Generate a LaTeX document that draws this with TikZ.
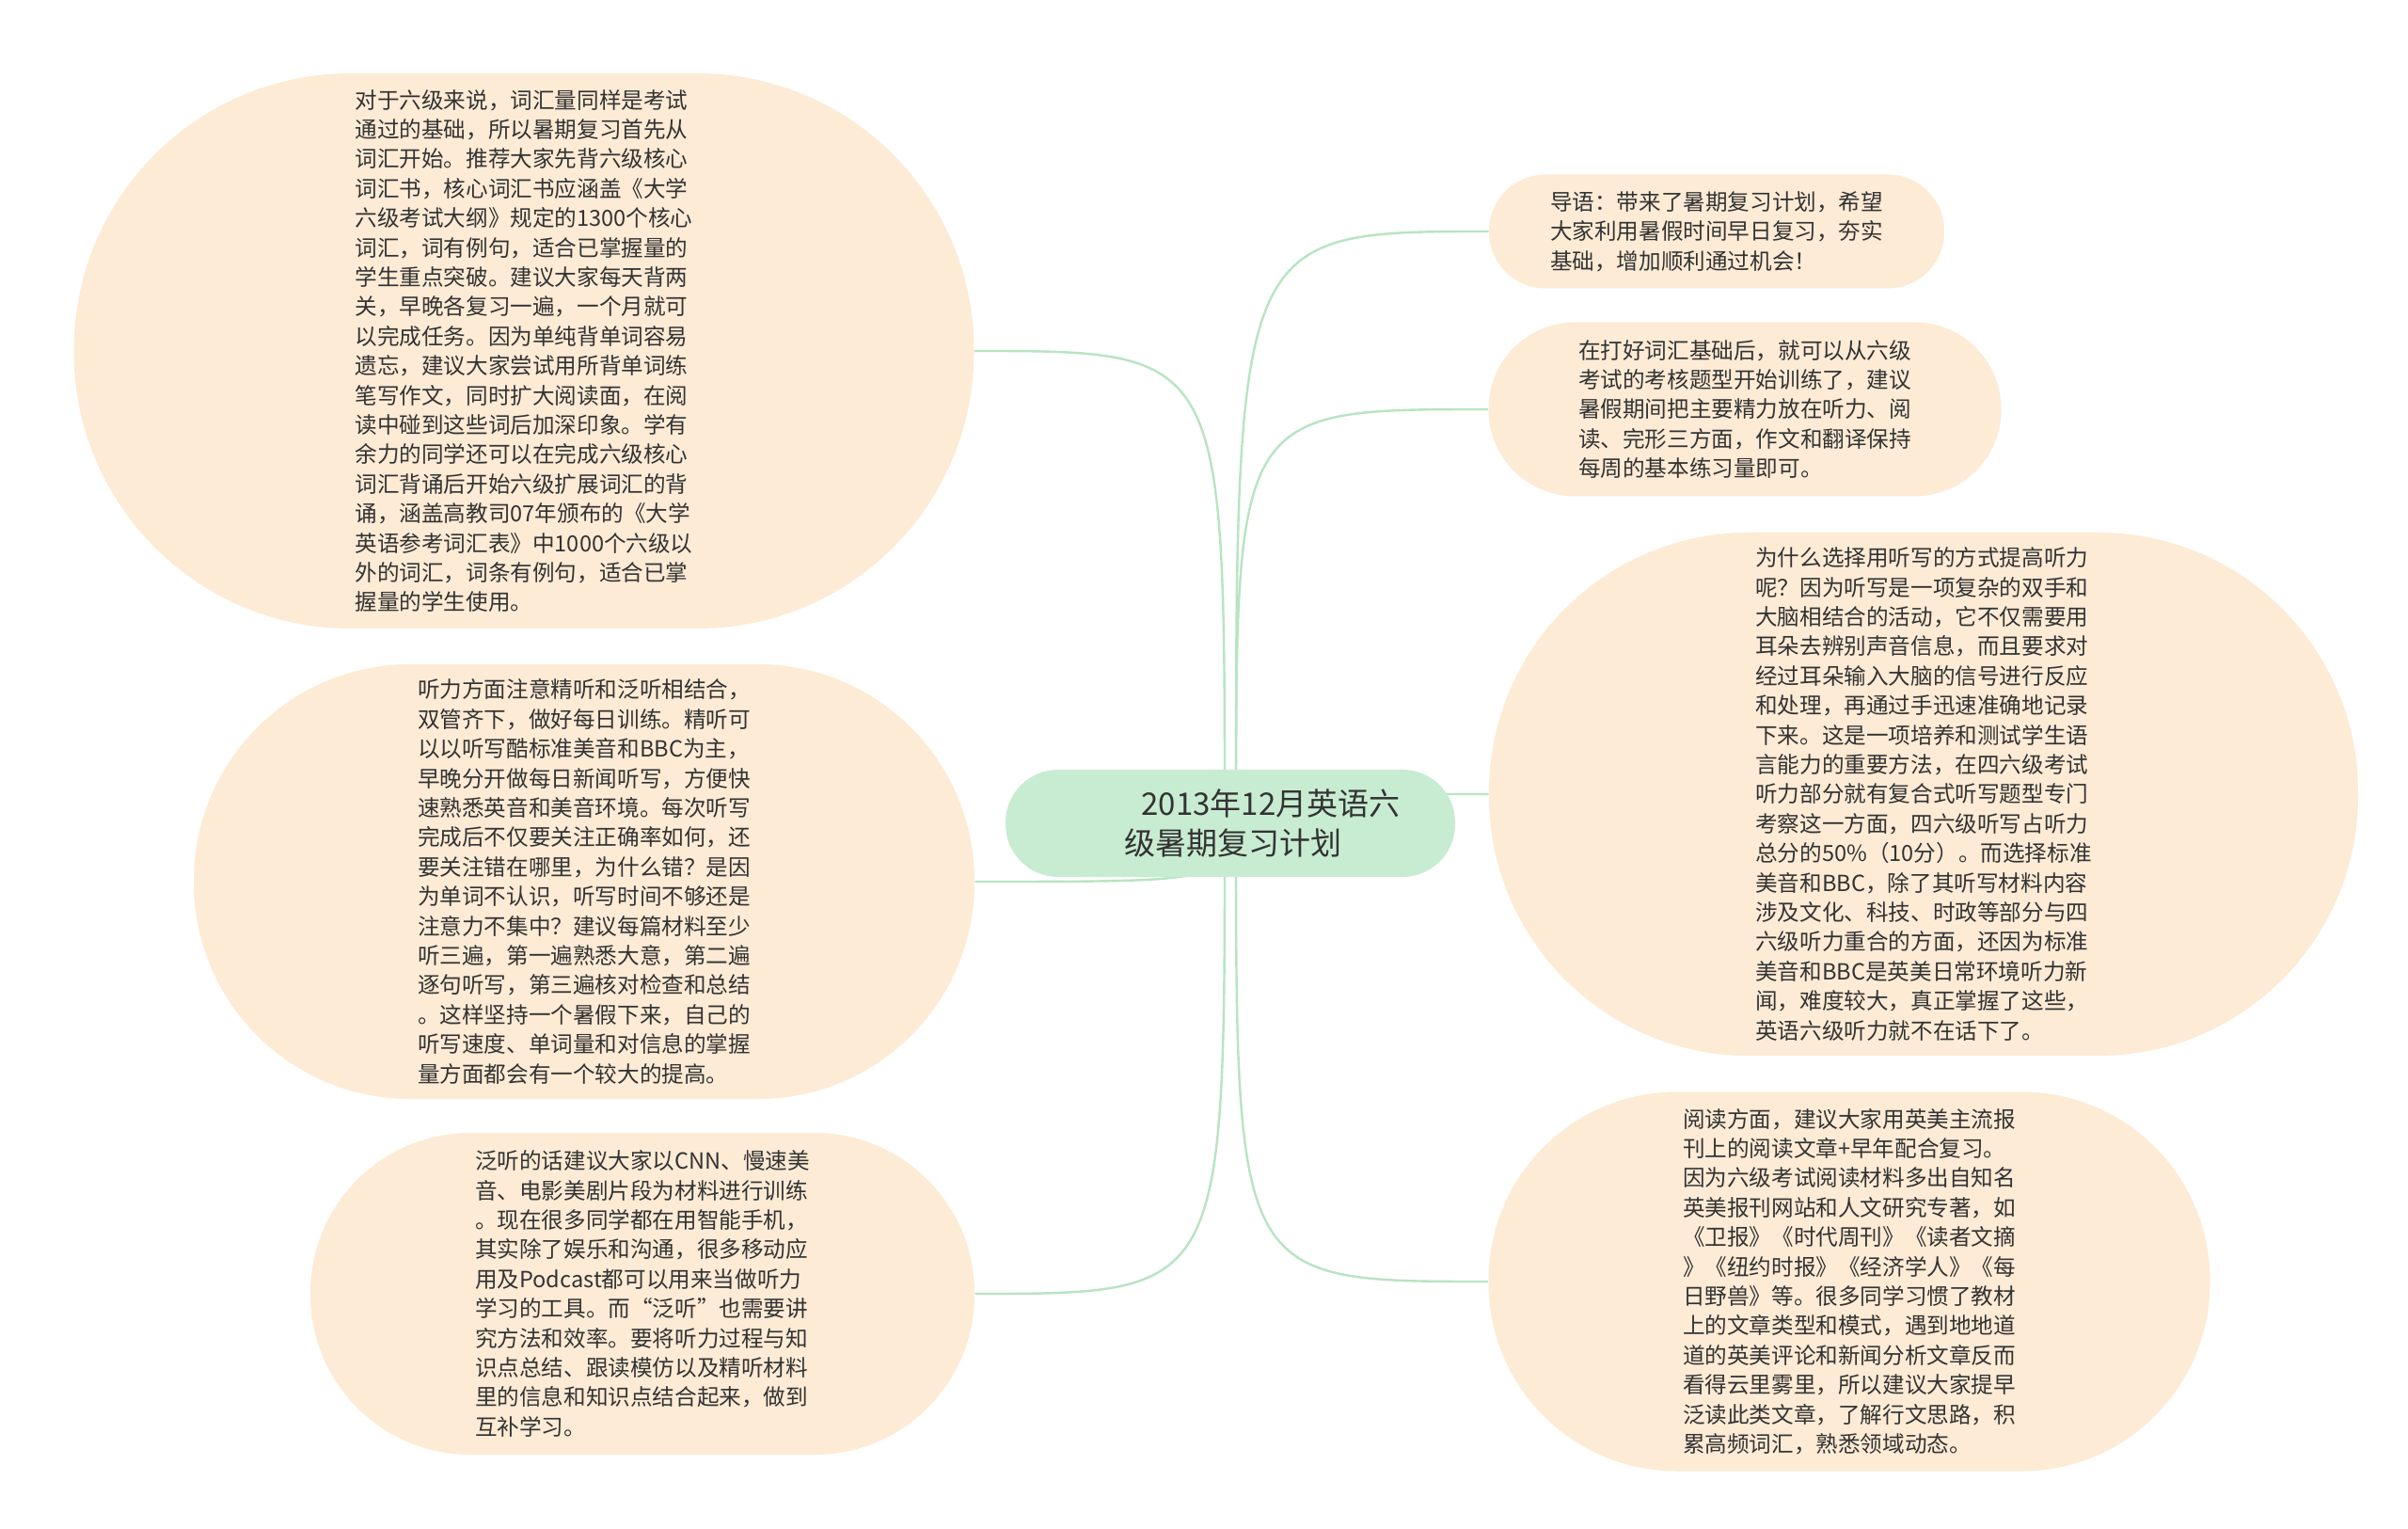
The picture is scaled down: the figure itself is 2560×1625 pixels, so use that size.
\documentclass[tikz,border=0pt]{standalone}
\usepackage{fontspec}
\setmainfont{Noto Sans CJK SC}
\usetikzlibrary{backgrounds}
\definecolor{peach}{RGB}{253,235,213}
\definecolor{rootgreen}{RGB}{200,236,209}
\definecolor{linkgreen}{RGB}{184,228,194}
\definecolor{txt}{RGB}{51,51,51}
\newcommand{\topicsize}{\fontsize{11.8pt}{15.7pt}\selectfont}
\newcommand{\rootsize}{\fontsize{16.5pt}{20.6pt}\selectfont}
\begin{document}
\begin{tikzpicture}[x=0.5pt,y=-0.5pt,
  topic/.style={fill=peach, rounded corners=#1, align=left, text=txt, font=\topicsize, inner sep=0pt},
  rootbox/.style={fill=rootgreen, rounded corners=28pt, minimum width=239pt, minimum height=57pt, inner sep=0pt},
  roottxt/.style={font=\rootsize, text=txt, align=left, inner sep=0pt},
  link/.style={draw=linkgreen, line width=1.2pt}]
\useasboundingbox (0,0) rectangle (2560,1625);

% central topic
\node[rootbox] (root) at (1308,875) {};
\node[roottxt] (roottext) at (1342,875) {\hspace*{9pt}2013年12月英语六\\级暑期复习计划};

% left topics
\node[topic=147pt, minimum width=478.5pt, minimum height=295pt] (n1) at (557,373) {对于六级来说，词汇量同样是考试\\
通过的基础，所以暑期复习首先从\\
词汇开始。推荐大家先背六级核心\\
词汇书，核心词汇书应涵盖《大学\\
六级考试大纲》规定的1300个核心\\
词汇，词有例句，适合已掌握量的\\
学生重点突破。建议大家每天背两\\
关，早晚各复习一遍，一个月就可\\
以完成任务。因为单纯背单词容易\\
遗忘，建议大家尝试用所背单词练\\
笔写作文，同时扩大阅读面，在阅\\
读中碰到这些词后加深印象。学有\\
余力的同学还可以在完成六级核心\\
词汇背诵后开始六级扩展词汇的背\\
诵，涵盖高教司07年颁布的《大学\\
英语参考词汇表》中1000个六级以\\
外的词汇，词条有例句，适合已掌\\
握量的学生使用。};

\node[topic=115pt, minimum width=415pt, minimum height=231pt] (n2) at (621,937) {听力方面注意精听和泛听相结合，\\
双管齐下，做好每日训练。精听可\\
以以听写酷标准美音和BBC为主，\\
早晚分开做每日新闻听写，方便快\\
速熟悉英音和美音环境。每次听写\\
完成后不仅要关注正确率如何，还\\
要关注错在哪里，为什么错？是因\\
为单词不认识，听写时间不够还是\\
注意力不集中？建议每篇材料至少\\
听三遍，第一遍熟悉大意，第二遍\\
逐句听写，第三遍核对检查和总结\\
。这样坚持一个暑假下来，自己的\\
听写速度、单词量和对信息的掌握\\
量方面都会有一个较大的提高。};

\node[topic=85pt, minimum width=353pt, minimum height=171pt] (n3) at (683,1375) {泛听的话建议大家以CNN、慢速美\\
音、电影美剧片段为材料进行训练\\
。现在很多同学都在用智能手机，\\
其实除了娱乐和沟通，很多移动应\\
用及Podcast都可以用来当做听力\\
学习的工具。而“泛听”也需要讲\\
究方法和效率。要将听力过程与知\\
识点总结、跟读模仿以及精听材料\\
里的信息和知识点结合起来，做到\\
互补学习。};

% right topics
\node[topic=30pt, minimum width=242pt, minimum height=60.5pt] (n4) at (1825,246) {导语：带来了暑期复习计划，希望\\
大家利用暑假时间早日复习，夯实\\
基础，增加顺利通过机会！};

\node[topic=46pt, minimum width=272.5pt, minimum height=92.5pt] (n5) at (1855,435) {在打好词汇基础后，就可以从六级\\
考试的考核题型开始训练了，建议\\
暑假期间把主要精力放在听力、阅\\
读、完形三方面，作文和翻译保持\\
每周的基本练习量即可。};

\node[topic=138pt, minimum width=462pt, minimum height=278pt] (n6) at (2045,844) {为什么选择用听写的方式提高听力\\
呢？因为听写是一项复杂的双手和\\
大脑相结合的活动，它不仅需要用\\
耳朵去辨别声音信息，而且要求对\\
经过耳朵输入大脑的信号进行反应\\
和处理，再通过手迅速准确地记录\\
下来。这是一项培养和测试学生语\\
言能力的重要方法，在四六级考试\\
听力部分就有复合式听写题型专门\\
考察这一方面，四六级听写占听力\\
总分的50\%（10分）。而选择标准\\
美音和BBC，除了其听写材料内容\\
涉及文化、科技、时政等部分与四\\
六级听力重合的方面，还因为标准\\
美音和BBC是英美日常环境听力新\\
闻，难度较大，真正掌握了这些，\\
英语六级听力就不在话下了。};

\node[topic=100pt, minimum width=383.5pt, minimum height=201.5pt] (n7) at (1966,1362) {阅读方面，建议大家用英美主流报\\
刊上的阅读文章+早年配合复习。\\
因为六级考试阅读材料多出自知名\\
英美报刊网站和人文研究专著，如\\
《卫报》《时代周刊》《读者文摘\\
》《纽约时报》《经济学人》《每\\
日野兽》等。很多同学习惯了教材\\
上的文章类型和模式，遇到地地道\\
道的英美评论和新闻分析文章反而\\
看得云里雾里，所以建议大家提早\\
泛读此类文章，了解行文思路，积\\
累高频词汇，熟悉领域动态。};

\coordinate (hubL) at (1302,875);
\coordinate (hubR) at (1314,875);

\begin{scope}[on background layer]
  \fill[white] (0,0) rectangle (2560,1625);
  \draw[link] (hubL) .. controls (hubL |- n1.east) .. (n1.east);
  \draw[link] (hubL) .. controls (hubL |- n2.east) .. (n2.east);
  \draw[link] (hubL) .. controls (hubL |- n3.east) .. (n3.east);
  \draw[link] (hubR) .. controls (hubR |- n4.west) .. (n4.west);
  \draw[link] (hubR) .. controls (hubR |- n5.west) .. (n5.west);
  \draw[link] (hubR) .. controls (hubR |- n6.west) .. (n6.west);
  \draw[link] (hubR) .. controls (hubR |- n7.west) .. (n7.west);
\end{scope}
\end{tikzpicture}
\end{document}
